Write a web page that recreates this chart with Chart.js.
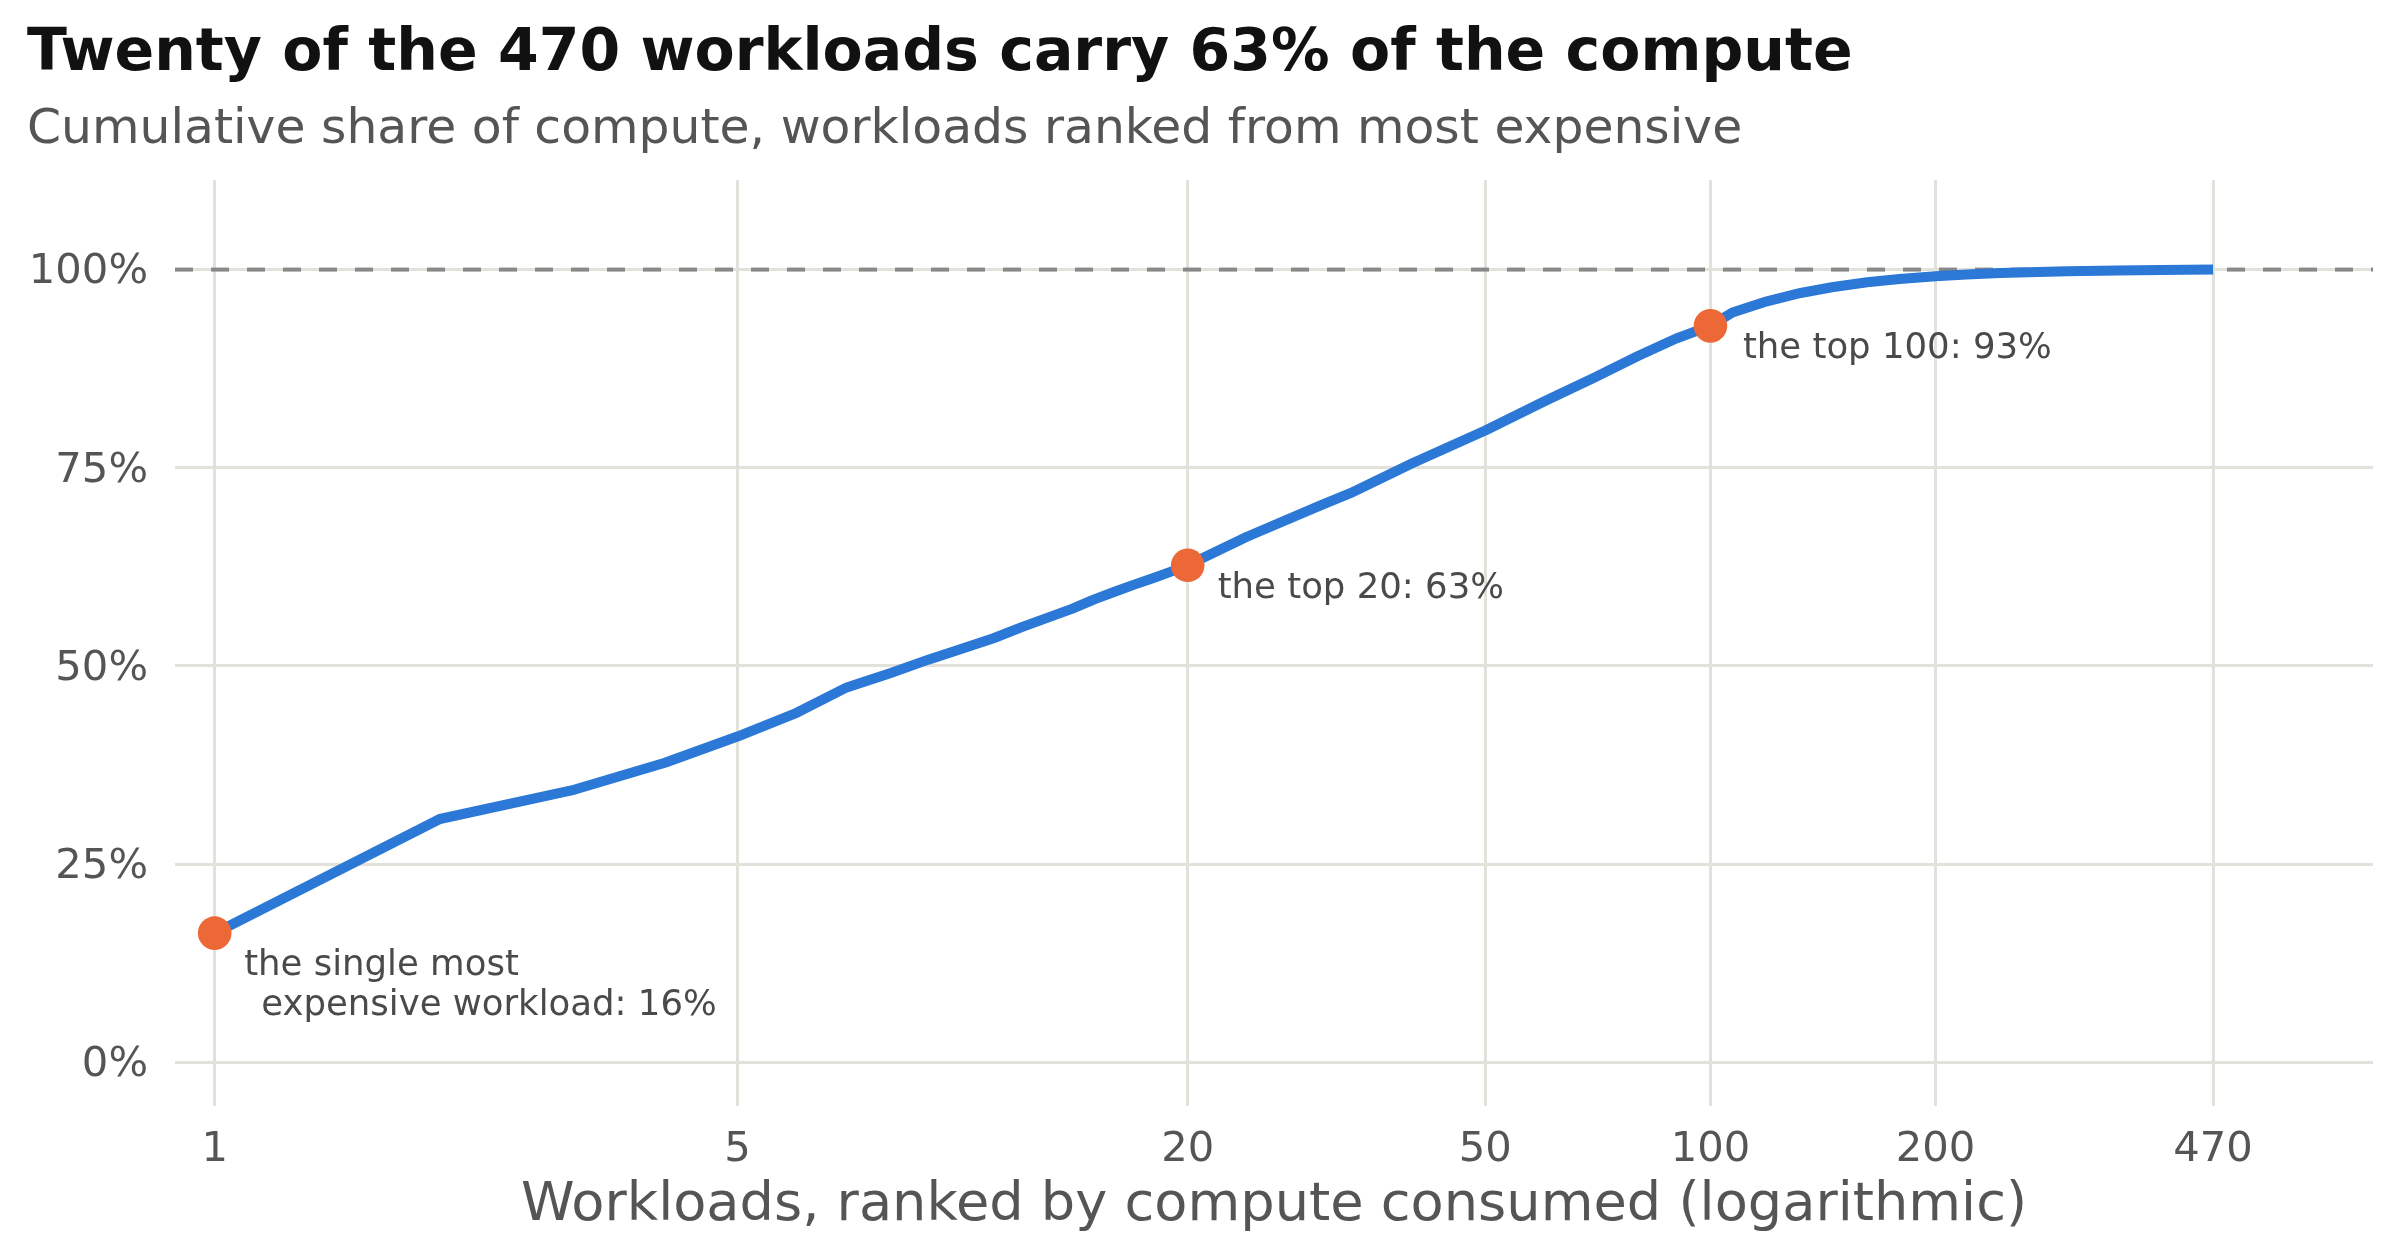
<!DOCTYPE html>
<html><head><meta charset="utf-8">
<script src="https://cdn.jsdelivr.net/npm/chart.js@4.4.1/dist/chart.umd.min.js"></script>
<style>html,body{margin:0;padding:0;background:#fff}canvas{display:block}</style>
</head><body>
<canvas id="c" width="2400" height="1260"></canvas>
<script>
// ---- data ----
const TITLE = "Twenty of the 470 workloads carry 63% of the compute";
const SUBTITLE = "Cumulative share of compute, workloads ranked from most expensive";
const X_TITLE = "Workloads, ranked by compute consumed (logarithmic)";
const ranks = [1,2,3,4,5,6,7,8,9,10,11,12,13,14,15,16,17,18,19,20,24,30,33,40,50,60,70,80,90,100,107,119,132,146,162,179,200,220,244,300,350,400,470];
const shares = [0.163,0.307,0.343,0.378,0.411,0.441,0.473,0.491,0.508,0.522,0.535,0.549,0.561,0.572,0.584,0.594,0.603,0.611,0.619,0.627,0.663,0.702,0.718,0.756,0.797,0.834,0.864,0.891,0.913,0.929,0.946,0.960,0.9705,0.978,0.984,0.988,0.9915,0.9937,0.9958,0.998,0.999,0.9996,1.0];
const xTicks = [1,5,20,50,100,200,470];
const yTicks = [0,0.25,0.5,0.75,1];
const yTickLabels = ["0%","25%","50%","75%","100%"];
const highlightRanks = [1,20,100];
const highlightLabels = [["the single most","expensive workload: 16%"],["the top 20: 63%"],["the top 100: 93%"]];
const referenceShare = 1;
const X_MIN = 0.885, X_MAX = 769, Y_MIN = -0.055, Y_MAX = 1.113;

// ---- styling ----
const FONT = "'DejaVu Sans', 'Liberation Sans', sans-serif";
const BLUE = '#2b78d6', ORANGE = '#ec6937', GRID = '#e2e1da', TICK = '#555555';
const labelOffsets = [[[29.5,42],[46.5,82]], [[30,33]], [[32.5,32]]];

const highlightPts = highlightRanks.map(r => ({x: r, y: shares[ranks.indexOf(r)]}));
const curve = ranks.map((r, i) => ({x: r, y: shares[i]}));

const textPlugin = {
  id: 'texts',
  afterDraw(chart) {
    const ctx = chart.ctx;
    ctx.save();
    ctx.textAlign = 'left';
    ctx.textBaseline = 'alphabetic';
    ctx.fillStyle = '#111111';
    ctx.font = "bold 58.5px " + FONT;
    ctx.fillText(TITLE, 27, 70);
    ctx.fillStyle = '#555555';
    ctx.font = "48.8px " + FONT;
    ctx.fillText(SUBTITLE, 27, 143);
    ctx.restore();
  },
  afterDatasetsDraw(chart) {
    const ctx = chart.ctx;
    const xs = chart.scales.x, ys = chart.scales.y;
    ctx.save();
    ctx.font = "35.5px " + FONT;
    ctx.fillStyle = '#4a4a4a';
    ctx.textAlign = 'left';
    ctx.textBaseline = 'alphabetic';
    highlightPts.forEach((p, i) => {
      const px = xs.getPixelForValue(p.x), py = ys.getPixelForValue(p.y);
      highlightLabels[i].forEach((line, j) => {
        const o = labelOffsets[i][j];
        ctx.fillText(line, px + o[0], py + o[1]);
      });
    });
    ctx.restore();
  }
};

new Chart(document.getElementById('c'), {
  type: 'line',
  data: {
    datasets: [
      { data: highlightPts, showLine: false, pointRadius: 16.8, pointHoverRadius: 16.8,
        pointBackgroundColor: ORANGE, pointBorderWidth: 0, borderColor: ORANGE, order: 0 },
      { data: curve, borderColor: BLUE, borderWidth: 10, pointRadius: 0, tension: 0,
        borderJoinStyle: 'round', borderCapStyle: 'butt', fill: false, order: 1 },
      { data: [{x: X_MIN, y: referenceShare}, {x: X_MAX, y: referenceShare}], borderColor: '#888888',
        borderWidth: 4, borderDash: [18, 18], borderCapStyle: 'butt', pointRadius: 0, fill: false, order: 2 }
    ]
  },
  options: {
    responsive: false,
    devicePixelRatio: 1,
    animation: false,
    events: [],
    layout: { padding: { top: 180, right: 27, left: 0, bottom: 0 } },
    plugins: { legend: { display: false }, tooltip: { enabled: false }, title: { display: false } },
    scales: {
      x: {
        type: 'logarithmic', min: X_MIN, max: X_MAX, bounds: 'data',
        afterBuildTicks: s => { s.ticks = xTicks.map(v => ({value: v})); },
        afterFit: s => { s.height = 154; },
        grid: { color: GRID, lineWidth: 3, drawTicks: false },
        border: { display: false },
        ticks: { autoSkip: false, maxRotation: 0, padding: 19, color: TICK,
          font: { family: FONT, size: 41.7 }, callback: v => String(v) },
        title: { display: true, text: X_TITLE, color: TICK, padding: { top: 0, bottom: 22 },
          font: { family: FONT, size: 54.2 } }
      },
      y: {
        type: 'linear', min: Y_MIN, max: Y_MAX, bounds: 'data',
        afterBuildTicks: s => { s.ticks = yTicks.map(v => ({value: v})); },
        afterFit: s => { s.width = 175; },
        grid: { color: GRID, lineWidth: 3, drawTicks: false },
        border: { display: false },
        ticks: { padding: 27, labelOffset: 3, color: TICK, font: { family: FONT, size: 41.7 },
          callback: v => yTickLabels[yTicks.indexOf(v)] }
      }
    }
  },
  plugins: [textPlugin]
});
</script>
</body></html>
